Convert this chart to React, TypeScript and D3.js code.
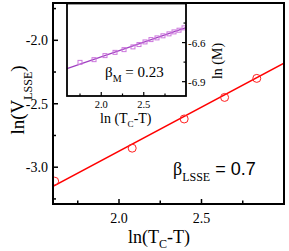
import * as d3 from "d3";

// main panel: ln(Tc-T) vs ln(V_LSSE)
const lnT = [1.61, 2.08, 2.395, 2.64, 2.835];
const lnV = [-3.11, -2.85, -2.62, -2.45, -2.3];
const fitX = [1.6, 3.0];
const fitY = [-3.15, -2.18];

const xTicks = [2.0, 2.5];
const xMinor = [1.75, 2.25, 2.75];
const yTicks = [-2.0, -2.5, -3.0];
const yMinor = [-1.75, -2.25, -2.75, -3.25];

// inset: ln(Tc-T) vs ln(M)
const insetX = [1.75, 1.915, 2.044, 2.162, 2.268, 2.373, 2.444, 2.515, 2.585, 2.656, 2.726, 2.797, 2.856, 2.915, 2.974];
const insetM = [-6.752, -6.731, -6.7, -6.675, -6.654, -6.633, -6.615, -6.595, -6.577, -6.564, -6.548, -6.533, -6.518, -6.505, -6.487];
const insetFitX = [1.597, 2.997];
const insetFitY = [-6.8, -6.485];

const insetXTicks = [2.0, 2.5];
const insetXMinor = [1.75, 2.25, 2.75];
const insetYTicks = [-6.6, -6.9];
const insetYMinor = [-6.45, -6.75];

const SERIF = "'Liberation Serif', 'Times New Roman', serif";
const SANS = "'Liberation Sans', Arial, sans-serif";
const fmt = (v: number) => d3.format(".1f")(v).replace("\u2212", "-");

const W = 289;
const H = 251;
const P = { left: 53, right: 284, top: 3, bottom: 204 };
const IN = { left: 67, right: 186, top: 3.5, bottom: 96 };

export default function App() {
  const x = d3.scaleLinear().domain([1.6, 3.0]).range([P.left, P.right]);
  const y = d3.scaleLinear().domain([-3.29, -1.706]).range([P.bottom, P.top]);
  const ix = d3.scaleLinear().domain([1.597, 2.997]).range([IN.left, IN.right]);
  const iy = d3.scaleLinear().domain([-7.01, -6.3]).range([IN.bottom, IN.top]);

  const fitLine = d3.line<number>().x((d) => x(d)).y((_, i) => y(fitY[i]));
  const insetLine = d3.line<number>().x((d) => ix(d)).y((_, i) => iy(insetFitY[i]));

  return (
    <svg
      width={W}
      height={H}
      style={{ position: "absolute", left: 0, top: 0, background: "#fff" }}
    >
      <defs>
        <clipPath id="mainClip">
          <rect x={P.left} y={P.top} width={P.right - P.left} height={P.bottom - P.top} />
        </clipPath>
      </defs>

      {/* main data */}
      <g clipPath="url(#mainClip)">
        <path d={fitLine(fitX) ?? ""} fill="none" stroke="#ff0000" strokeWidth={1.5} />
        {lnT.map((t, i) => (
          <circle key={i} cx={x(t)} cy={y(lnV[i])} r={4} fill="none" stroke="#ff2020" strokeWidth={1} />
        ))}
      </g>

      {/* main ticks */}
      {yTicks.map((v) => (
        <g key={v}>
          <line x1={P.left} x2={P.left + 5} y1={y(v)} y2={y(v)} stroke="#000" strokeWidth={1.5} />
          <text x={48} y={y(v) + 5} textAnchor="end" fontFamily={SERIF} fontSize={14}>
            {fmt(v)}
          </text>
        </g>
      ))}
      {yMinor.map((v) => (
        <line key={v} x1={P.left} x2={P.left + 3} y1={y(v)} y2={y(v)} stroke="#000" strokeWidth={1.5} />
      ))}
      {xTicks.map((v) => (
        <g key={v}>
          <line x1={x(v)} x2={x(v)} y1={P.bottom} y2={P.bottom - 5} stroke="#000" strokeWidth={1.5} />
          <text x={x(v)} y={223} textAnchor="middle" fontFamily={SERIF} fontSize={14}>
            {fmt(v)}
          </text>
        </g>
      ))}
      {xMinor.map((v) => (
        <line key={v} x1={x(v)} x2={x(v)} y1={P.bottom} y2={P.bottom - 3.5} stroke="#000" strokeWidth={1.5} />
      ))}

      <rect
        x={P.left}
        y={P.top}
        width={P.right - P.left}
        height={P.bottom - P.top}
        fill="none"
        stroke="#000"
        strokeWidth={2}
      />

      {/* main labels */}
      <text x={128} y={243} fontFamily={SERIF} fontSize={18}>
        ln(T<tspan fontSize={12} dy={5}>C</tspan>
        <tspan dy={-5}>-T)</tspan>
      </text>
      <text transform="translate(24,100) rotate(-90)" textAnchor="middle" fontFamily={SERIF} fontSize={19}>
        ln(V<tspan fontSize={12} dy={8}>LSSE</tspan>
        <tspan dy={-8}>)</tspan>
      </text>
      <text x={173} y={175} fontFamily={SERIF} fontSize={18}>
        β<tspan fontSize={12} dy={6}>LSSE</tspan>
        <tspan dy={-6} fontFamily={SANS}> = 0.7</tspan>
      </text>

      {/* inset */}
      <rect
        x={IN.left}
        y={IN.top}
        width={IN.right - IN.left}
        height={IN.bottom - IN.top}
        fill="#fff"
      />
      <path d={insetLine(insetFitX) ?? ""} fill="none" stroke="#a040c0" strokeWidth={1.2} />
      {insetX.map((t, i) => (
        <rect
          key={i}
          x={ix(t) - 2}
          y={iy(insetM[i]) - 2}
          width={4}
          height={4}
          fill="none"
          stroke="#cc77dd"
          strokeWidth={1}
        />
      ))}
      {insetXTicks.map((v) => (
        <g key={v}>
          <line x1={ix(v)} x2={ix(v)} y1={IN.bottom} y2={IN.bottom - 4} stroke="#000" strokeWidth={1.2} />
          <text x={ix(v)} y={107.5} textAnchor="middle" fontFamily={SERIF} fontSize={10.5}>
            {fmt(v)}
          </text>
        </g>
      ))}
      {insetXMinor.map((v) => (
        <line key={v} x1={ix(v)} x2={ix(v)} y1={IN.bottom} y2={IN.bottom - 2.5} stroke="#000" strokeWidth={1.2} />
      ))}
      {insetYTicks.map((v) => (
        <g key={v}>
          <line x1={IN.right - 4} x2={IN.right} y1={iy(v)} y2={iy(v)} stroke="#000" strokeWidth={1.2} />
          <text x={188} y={iy(v) + 4} fontFamily={SERIF} fontSize={11}>
            {fmt(v)}
          </text>
        </g>
      ))}
      {insetYMinor.map((v) => (
        <line key={v} x1={IN.right - 2.5} x2={IN.right} y1={iy(v)} y2={iy(v)} stroke="#000" strokeWidth={1.2} />
      ))}
      <rect
        x={IN.left}
        y={IN.top}
        width={IN.right - IN.left}
        height={IN.bottom - IN.top}
        fill="none"
        stroke="#000"
        strokeWidth={1.8}
      />
      <text x={105} y={77} fontFamily={SERIF} fontSize={15}>
        β<tspan fontSize={10} dy={5}>M</tspan>
        <tspan dy={-5}> = 0.23</tspan>
      </text>
      <text x={100} y={123} fontFamily={SERIF} fontSize={14}>
        ln (T<tspan fontSize={9} dy={4}>C</tspan>
        <tspan dy={-4}>-T)</tspan>
      </text>
      <text transform="translate(222,61) rotate(-90)" textAnchor="middle" fontFamily={SERIF} fontSize={14}>
        ln (M)
      </text>
    </svg>
  );
}
